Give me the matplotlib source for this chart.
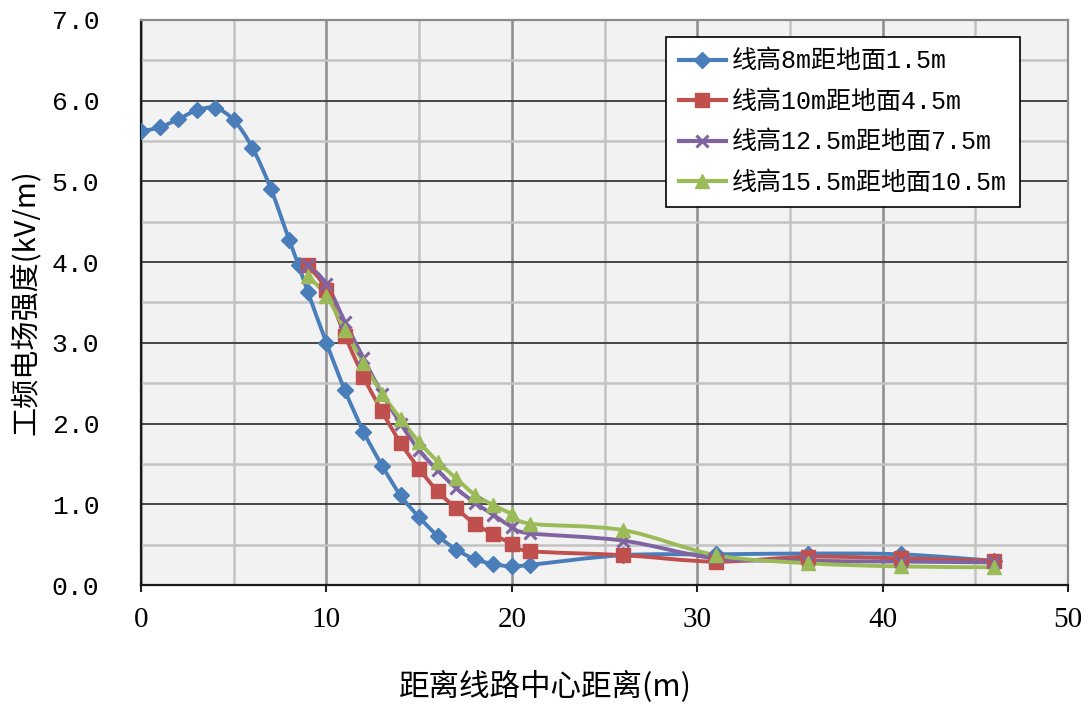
import numpy as np
import matplotlib
matplotlib.use("Agg")
import matplotlib.pyplot as plt
from matplotlib.path import Path
from matplotlib.patches import PathPatch
from matplotlib.lines import Line2D

# ---- data: power-frequency electric field vs. distance from line centre ----
x_8m = [0, 1, 2, 3, 4, 5, 6, 7, 8, 8.5, 9, 10, 11, 12, 13, 14, 15, 16, 17, 18,
        19, 20, 21, 26, 31, 36, 41, 46]
e_8m = [5.62, 5.67, 5.77, 5.88, 5.91, 5.76, 5.42, 4.91, 4.27, 3.96, 3.63, 3.00,
        2.41, 1.90, 1.48, 1.11, 0.84, 0.61, 0.44, 0.32, 0.26, 0.23, 0.25, 0.37,
        0.38, 0.39, 0.38, 0.30]

x_far = [9, 10, 11, 12, 13, 14, 15, 16, 17, 18, 19, 20, 21, 26, 31, 36, 41, 46]
e_10m = [3.96, 3.66, 3.09, 2.58, 2.15, 1.76, 1.44, 1.16, 0.95, 0.76, 0.63, 0.51,
         0.42, 0.37, 0.29, 0.35, 0.33, 0.30]
e_12m = [3.97, 3.73, 3.26, 2.81, 2.37, 2.00, 1.67, 1.42, 1.20, 1.02, 0.87, 0.72,
         0.64, 0.55, 0.33, 0.30, 0.29, 0.28]
e_15m = [3.83, 3.58, 3.16, 2.75, 2.37, 2.06, 1.77, 1.53, 1.32, 1.12, 0.99, 0.88,
         0.76, 0.68, 0.37, 0.27, 0.23, 0.22]

labels = ["线高8m距地面1.5m", "线高10m距地面4.5m",
          "线高12.5m距地面7.5m", "线高15.5m距地面10.5m"]
x_ticks = [0, 10, 20, 30, 40, 50]
y_ticks = [0, 1, 2, 3, 4, 5, 6, 7]

colors = ["#4A7EBB", "#C0504D", "#8064A2", "#9BBB59"]
markers = ["D", "s", "x", "^"]
msizes = [8, 10, 8, 10]

CJK = "Noto Sans CJK SC"
NUM = "Liberation Serif"
MONO = "Liberation Mono"


def smooth_path(xs, ys):
    """Bezier path through the points (Catmull-Rom style, like a smoothed line)."""
    xs = np.asarray(xs, float)
    ys = np.asarray(ys, float)
    n = len(xs)
    verts = [(xs[0], ys[0])]
    codes = [Path.MOVETO]
    for i in range(n - 1):
        p0 = np.array([xs[max(i - 1, 0)], ys[max(i - 1, 0)]])
        p1 = np.array([xs[i], ys[i]])
        p2 = np.array([xs[i + 1], ys[i + 1]])
        p3 = np.array([xs[min(i + 2, n - 1)], ys[min(i + 2, n - 1)]])
        c1 = p1 + (p2 - p0) / 6.0
        c2 = p2 - (p3 - p1) / 6.0
        verts += [tuple(c1), tuple(c2), tuple(p2)]
        codes += [Path.CURVE4] * 3
    return Path(verts, codes)


fig = plt.figure(figsize=(10.89, 7.08), dpi=100)
ax = fig.add_axes([0.1295, 0.1737, 0.8512, 0.7981])
ax.set_facecolor("#F2F2F2")

series = [(x_8m, e_8m), (x_far, e_10m), (x_far, e_12m), (x_far, e_15m)]
handles = []
for (xs, ys), c, m, ms, lab in zip(series, colors, markers, msizes, labels):
    patch = PathPatch(smooth_path(xs, ys), facecolor="none", edgecolor=c,
                      lw=2.8, zorder=3, capstyle="round", joinstyle="round")
    ax.add_patch(patch)
    mew = 2.2 if m == "x" else 1.0
    ax.plot(xs, ys, ls="none", marker=m, ms=ms, color=c, mec=c, mew=mew, zorder=4)
    handles.append(Line2D([], [], color=c, lw=3.0, marker=m, ms=ms, mec=c, mew=mew))

ax.set_xlim(0, 50)
ax.set_ylim(0, 7)
ax.set_xticks(x_ticks)
ax.set_xticks(np.arange(5, 50, 10), minor=True)
ax.set_yticks(y_ticks)
ax.set_yticks(np.arange(0.5, 7, 1.0), minor=True)

ax.grid(which="major", axis="x", color="#8C8C8C", lw=1.8, zorder=1)
ax.grid(which="major", axis="y", color="#3A3A3A", lw=1.3, zorder=1)
ax.grid(which="minor", color="#C3C3C3", lw=1.8, zorder=0.9)

ax.set_xticklabels([str(v) for v in x_ticks], family=NUM, fontsize=21)
ax.set_yticklabels([f"{v:.1f}" for v in y_ticks], family=MONO, fontsize=19)
ax.tick_params(axis="x", which="major", length=5, width=1.5, color="#222222", pad=11)
ax.tick_params(axis="x", which="minor", length=0)
ax.tick_params(axis="y", which="both", length=0, pad=30)
for lab in ax.get_yticklabels():
    lab.set_horizontalalignment("right")

for side in ("left", "bottom"):
    ax.spines[side].set_color("#1A1A1A")
    ax.spines[side].set_linewidth(1.6)
for side in ("top", "right"):
    ax.spines[side].set_color("#8C8C8C")
    ax.spines[side].set_linewidth(1.6)

ax.set_xlabel("距离线路中心距离(m)", family=CJK, fontsize=22)
ax.xaxis.set_label_coords(0.436, -0.152)
ax.set_ylabel("工频电场强度(kV/m)", family=CJK, fontsize=21, labelpad=8)

leg = ax.legend(handles, labels, loc="upper right", bbox_to_anchor=(0.948, 0.97),
                prop={"family": [MONO, CJK], "size": 18},
                frameon=True, fancybox=False, framealpha=1, edgecolor="#000000",
                handlelength=1.9, handletextpad=0.25, labelspacing=0.66,
                borderpad=0.5, borderaxespad=0)
leg.get_frame().set_linewidth(1.2)
leg.set_zorder(6)

fig.savefig("out.png", dpi=100, facecolor="white")
